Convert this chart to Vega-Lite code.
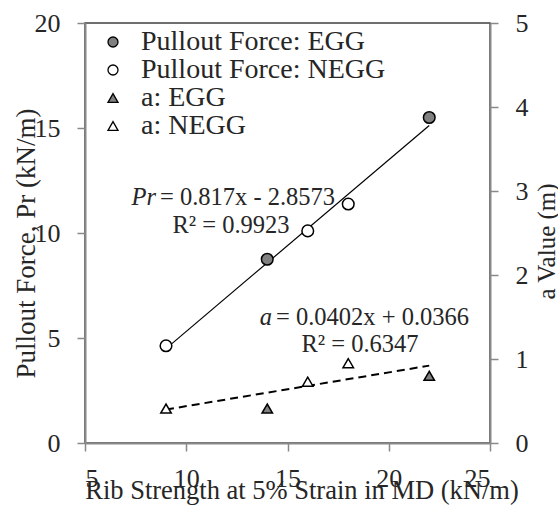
{
  "$schema": "https://vega.github.io/schema/vega-lite/v6.json",
  "width": 405,
  "height": 420,
  "autosize": {"type": "none"},
  "padding": {"left": 85, "top": 23, "right": 68, "bottom": 68},
  "background": "white",
  "datasets": {
    "pr": [
      {"x": 9, "y": 4.63, "series": "Pullout Force: NEGG"},
      {"x": 14, "y": 8.75, "series": "Pullout Force: EGG"},
      {"x": 16, "y": 10.1, "series": "Pullout Force: NEGG"},
      {"x": 18, "y": 11.38, "series": "Pullout Force: NEGG"},
      {"x": 22, "y": 15.5, "series": "Pullout Force: EGG"}
    ],
    "a": [
      {"x": 9, "y": 0.41, "series": "a: NEGG"},
      {"x": 14, "y": 0.41, "series": "a: EGG"},
      {"x": 16, "y": 0.73, "series": "a: NEGG"},
      {"x": 18, "y": 0.95, "series": "a: NEGG"},
      {"x": 22, "y": 0.8, "series": "a: EGG"}
    ],
    "trendPr": [{"x": 9, "y": 4.4957}, {"x": 22, "y": 15.1167}],
    "trendA": [{"x": 9, "y": 0.3984}, {"x": 22, "y": 0.921}],
    "eqItalic": [
      {"x": 8.506, "y": 11.33, "text": "Pr"},
      {"x": 14.235, "y": 5.62, "text": "a"}
    ],
    "eqRest": [
      {"x": 8.506, "y": 11.33, "text": "= 0.817x - 2.8573"},
      {"x": 14.235, "y": 5.62, "text": "= 0.0402x + 0.0366"}
    ],
    "eqR2": [
      {"x": 12.21, "y": 10.0, "text": "R² = 0.9923"},
      {"x": 18.58, "y": 4.33, "text": "R² = 0.6347"}
    ]
  },
  "encoding": {
    "x": {
      "field": "x",
      "type": "quantitative",
      "scale": {"domain": [5, 25], "nice": false, "zero": false},
      "axis": {
        "title": "Rib Strength at 5% Strain in MD (kN/m)",
        "values": [5, 10, 15, 20, 25],
        "labelPadding": 14,
        "titleFontSize": 26.5,
        "titleX": 216.5,
        "titleY": 55,
        "titleBaseline": "alphabetic"
      }
    }
  },
  "layer": [
    {
      "encoding": {
        "y": {
          "field": "y",
          "type": "quantitative",
          "scale": {"domain": [0, 20], "nice": false},
          "axis": {
            "title": "Pullout Force, Pr (kN/m)",
            "values": [0, 5, 10, 15, 20],
            "labelPadding": 17,
            "titleFontSize": 27,
            "titleAngle": 270,
            "titleBaseline": "alphabetic",
            "titleX": -51,
            "titleY": 220
          }
        }
      },
      "layer": [
        {
          "data": {"name": "trendPr"},
          "mark": {"type": "line", "color": "black", "strokeWidth": 1.2},
          "encoding": {}
        },
        {
          "data": {"name": "pr"},
          "mark": {"type": "point", "filled": true, "strokeWidth": 1.5, "size": 135, "opacity": 1},
          "encoding": {
            "stroke": {
              "field": "series",
              "type": "nominal",
              "scale": {
                "domain": ["Pullout Force: EGG", "Pullout Force: NEGG", "a: EGG", "a: NEGG"],
                "range": ["black", "black", "black", "black"]
              },
              "legend": {"title": null}
            },
            "shape": {
              "field": "series",
              "type": "nominal",
              "scale": {
                "domain": ["Pullout Force: EGG", "Pullout Force: NEGG", "a: EGG", "a: NEGG"],
                "range": ["circle", "circle", "triangle-up", "triangle-up"]
              },
              "legend": {"title": null}
            },
            "fill": {
              "field": "series",
              "type": "nominal",
              "scale": {
                "domain": ["Pullout Force: EGG", "Pullout Force: NEGG", "a: EGG", "a: NEGG"],
                "range": ["#808080", "white", "#808080", "white"]
              },
              "legend": {"title": null}
            }
          }
        },
        {
          "data": {"name": "eqItalic"},
          "mark": {"type": "text", "fontSize": 24.5, "fontStyle": "italic", "align": "right", "baseline": "alphabetic", "color": "#262626"},
          "encoding": {"text": {"field": "text"}}
        },
        {
          "data": {"name": "eqRest"},
          "mark": {"type": "text", "fontSize": 24.5, "align": "left", "baseline": "alphabetic", "dx": 4, "color": "#262626"},
          "encoding": {"text": {"field": "text"}}
        },
        {
          "data": {"name": "eqR2"},
          "mark": {"type": "text", "fontSize": 24.5, "align": "center", "baseline": "alphabetic", "color": "#262626"},
          "encoding": {"text": {"field": "text"}}
        }
      ]
    },
    {
      "encoding": {
        "y": {
          "field": "y",
          "type": "quantitative",
          "scale": {"domain": [0, 5], "nice": false},
          "axis": {
            "orient": "right",
            "title": "a Value (m)",
            "values": [0, 1, 2, 3, 4, 5],
            "labelPadding": 17,
            "titleFontSize": 25,
            "titleAngle": 270,
            "titleBaseline": "alphabetic",
            "titleX": 64,
            "titleY": 218
          }
        }
      },
      "layer": [
        {
          "data": {"name": "trendA"},
          "mark": {"type": "line", "color": "black", "strokeWidth": 2, "strokeDash": [8, 5]},
          "encoding": {}
        },
        {
          "data": {"name": "a"},
          "mark": {"type": "point", "filled": true, "strokeWidth": 1.5, "size": 110, "opacity": 1},
          "encoding": {
            "stroke": {"field": "series", "type": "nominal"},
            "shape": {"field": "series", "type": "nominal"},
            "fill": {"field": "series", "type": "nominal"}
          }
        }
      ]
    }
  ],
  "resolve": {"scale": {"y": "independent"}},
  "config": {
    "font": "Liberation Serif",
    "text": {"font": "Liberation Serif"},
    "view": {"stroke": "#404040", "strokeWidth": 1.5},
    "axis": {
      "grid": false,
      "domainColor": "#898989",
      "domainWidth": 2,
      "tickColor": "#898989",
      "tickWidth": 1.5,
      "tickSize": 8,
      "labelFont": "Liberation Serif",
      "labelFontSize": 26,
      "labelColor": "#262626",
      "titleFont": "Liberation Serif",
      "titleFontSize": 26,
      "titleFontWeight": "normal",
      "titleColor": "#262626"
    },
    "legend": {
      "orient": "none",
      "legendX": 14,
      "legendY": 5,
      "padding": 0,
      "labelFont": "Liberation Serif",
      "labelFontSize": 28,
      "labelColor": "#262626",
      "labelOffset": 14,
      "symbolSize": 100,
      "symbolStrokeWidth": 1.3,
      "rowPadding": 0,
      "labelLimit": 400
    }
  }
}
